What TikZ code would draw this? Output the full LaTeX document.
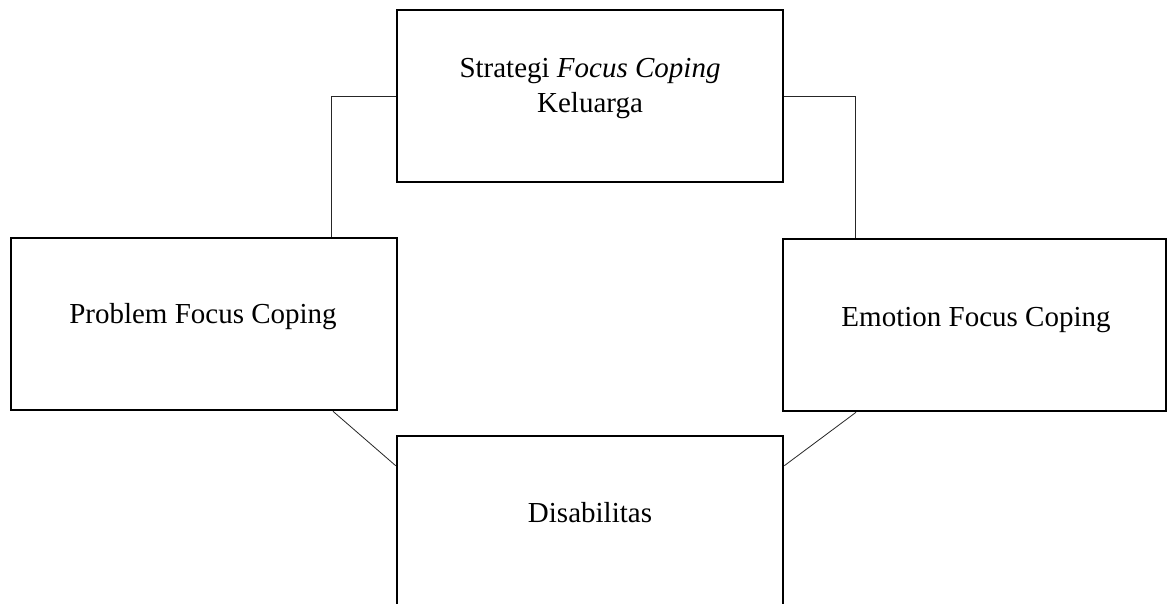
\documentclass[tikz,border=0pt]{standalone}
\usepackage{fontspec}
\setmainfont{Liberation Serif}
\begin{document}
\begin{tikzpicture}[x=1pt,y=-1pt,
  box/.style={draw=black,line width=2.6pt,rectangle,inner sep=0pt,minimum width=386pt,minimum height=172pt},
  txt/.style={inner sep=0pt,anchor=base,font=\fontsize{29}{35}\selectfont},
  conn/.style={draw=black!85,line width=0.8pt}]
\clip (0,0) rectangle (1169,604);
\fill[white] (0,0) rectangle (1169,604);
\node[box] (top) at (590,96) {};
\node[box] (left) at (204,324) {};
\node[box,minimum width=383pt] (right) at (974.5,325) {};
\node[box] (bottom) at (590,522) {};
\node[txt] (t1) at (590,78) {Strategi \textit{Focus Coping}};
\node[txt] (t2) at (590,113) {Keluarga};
\node[txt] (t3) at (203,323) {Problem Focus Coping};
\node[txt] (t4) at (976,326) {Emotion Focus Coping};
\node[txt] (t5) at (590,522) {Disabilitas};
\draw[conn] (top.west) -| ([xshift=127pt]left.north);
\draw[conn] (top.east) -| ([xshift=-119.5pt]right.north);
\draw[conn] ([xshift=129pt]left.south) -- ([yshift=-31pt]bottom.north west);
\draw[conn] ([xshift=-118.5pt]right.south) -- ([yshift=-31pt]bottom.north east);
\end{tikzpicture}
\end{document}
